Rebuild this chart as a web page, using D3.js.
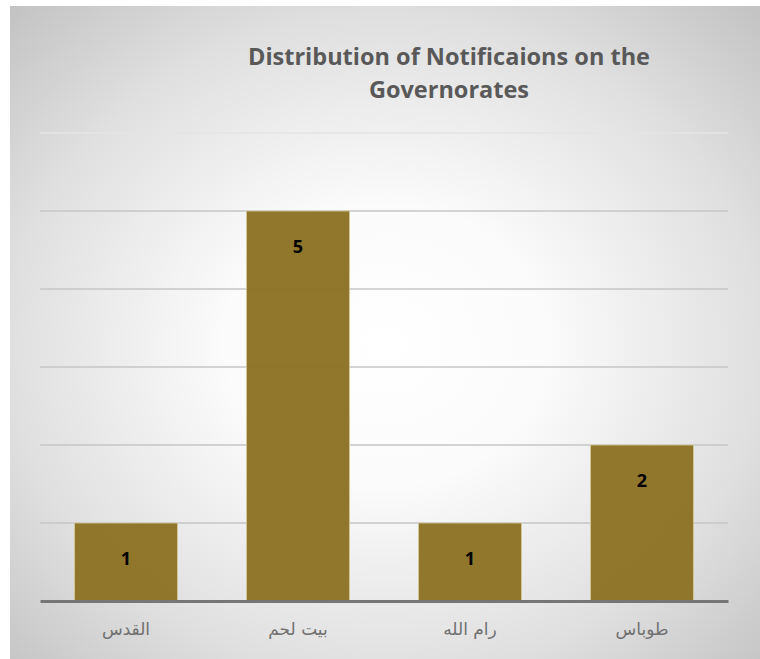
<!DOCTYPE html>
<html>
<head>
<meta charset="utf-8">
<script src="https://cdn.jsdelivr.net/npm/d3@7"></script>
<style>
  body { margin: 0; background: #fff; }
  svg { display: block; }
</style>
</head>
<body>
<svg width="760" height="659"></svg>
<script>
"use strict";

const categories = ['القدس', 'بيت لحم', 'رام الله', 'طوباس'];
const values = [1, 5, 1, 2];
const yTicks = [0, 1, 2, 3, 4, 5, 6];
const titleLines = ['Distribution of Notificaions on the', 'Governorates'];

const svg = d3.select('svg');
const width = +svg.attr('width');
const height = +svg.attr('height');

const defs = svg.append('defs');
const grad = defs.append('radialGradient')
    .attr('id', 'bg')
    .attr('cx', '0.5').attr('cy', '0.52').attr('r', '0.71');
grad.append('stop').attr('offset', '0%').attr('stop-color', '#ffffff');
grad.append('stop').attr('offset', '30%').attr('stop-color', '#fbfbfb');
grad.append('stop').attr('offset', '70%').attr('stop-color', '#e0e0e0');
grad.append('stop').attr('offset', '100%').attr('stop-color', '#c4c4c4');

svg.append('rect')
    .attr('x', 10).attr('y', 6)
    .attr('width', width - 10).attr('height', height - 6)
    .attr('fill', 'url(#bg)');

const plotLeft = 40, plotRight = 728, plotTop = 133, plotBottom = 601;

const x = d3.scaleBand()
    .domain(categories)
    .range([plotLeft, plotRight])
    .paddingInner(0.4)
    .paddingOuter(0.2);

const y = d3.scaleLinear()
    .domain([0, 6])
    .range([plotBottom, plotTop]);

// gridlines
svg.append('g')
    .selectAll('line')
    .data(yTicks.filter(d => d > 0))
    .join('line')
    .attr('x1', plotLeft)
    .attr('x2', plotRight)
    .attr('y1', d => y(d))
    .attr('y2', d => y(d))
    .attr('stroke', d => d === 6 ? '#e4e4e4' : '#c6c6c6')
    .attr('stroke-width', 1.3);

// bars
svg.append('g')
    .selectAll('rect')
    .data(values)
    .join('rect')
    .attr('x', (d, i) => x(categories[i]))
    .attr('y', d => y(d))
    .attr('width', x.bandwidth())
    .attr('height', d => y(0) - y(d))
    .attr('fill', '#8c7324')
    .attr('fill-opacity', 0.97)
    .attr('stroke', '#d8cfa6')
    .attr('stroke-width', 0.8);

// value labels
svg.append('g')
    .selectAll('text')
    .data(values)
    .join('text')
    .attr('x', (d, i) => x(categories[i]) + x.bandwidth() / 2)
    .attr('y', d => y(d) + 42)
    .attr('text-anchor', 'middle')
    .attr('font-family', '"Open Sans", Lato, sans-serif')
    .attr('font-weight', 'bold')
    .attr('font-size', 18)
    .attr('fill', '#000')
    .text(d => d);

// x axis
const xAxis = svg.append('g')
    .attr('transform', `translate(0, ${plotBottom})`)
    .call(d3.axisBottom(x).tickSize(0).tickPadding(22));
xAxis.select('.domain')
    .attr('stroke', '#767676')
    .attr('stroke-width', 3);
xAxis.selectAll('text')
    .attr('font-family', '"DejaVu Sans", "Noto Sans", sans-serif')
    .attr('font-size', 17)
    .attr('fill', '#707070');

// title
svg.append('text')
    .attr('x', 449)
    .attr('y', 65)
    .attr('text-anchor', 'middle')
    .attr('font-family', '"Open Sans", Lato, sans-serif')
    .attr('font-weight', 'bold')
    .attr('font-size', 23.5)
    .attr('fill', '#595959')
    .selectAll('tspan')
    .data(titleLines)
    .join('tspan')
    .attr('x', 449)
    .attr('dy', (d, i) => i === 0 ? 0 : 33)
    .text(d => d);
</script>
</body>
</html>
